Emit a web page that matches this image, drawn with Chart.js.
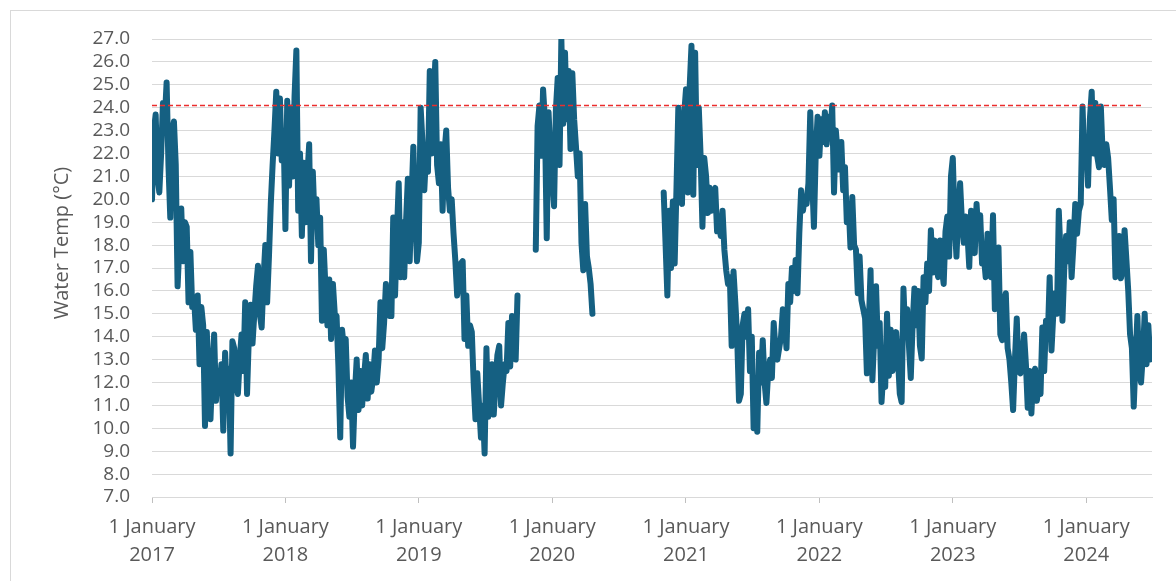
<!DOCTYPE html>
<html><head><meta charset="utf-8">
<script src="https://cdn.jsdelivr.net/npm/chart.js@4.4.1/dist/chart.umd.min.js"></script>
<style>
html,body{margin:0;padding:0;background:#fff;overflow:hidden;}
#wrap{position:relative;width:1176px;height:581px;overflow:hidden;}
#frame{position:absolute;left:10px;top:10px;width:1300px;height:700px;border:1px solid #d9d9d9;box-sizing:border-box;}
canvas{position:absolute;left:0;top:0;}
</style></head><body>
<div id="wrap"><div id="frame"></div><canvas id="c" width="1176" height="581"></canvas></div>
<script>
// Tick labels / categories
const yearStartDays = [0, 365, 730, 1095, 1461, 1826, 2191, 2556];
const yearLabels = ['2017', '2018', '2019', '2020', '2021', '2022', '2023', '2024'];
const stepDays = 5;
const thresholdValue = 24.1;
const thresholdEndDay = 2710;
const axisTitle = 'Water Temp (°C)';

// Water temperature series, one value every 5 days from 1 January of each year
const temps2017 = [20.0,23.0,23.7,21.0,20.3,22.0,24.2,23.5,25.1,21.5,
 19.2,23.0,23.4,21.5,16.2,18.0,19.6,17.3,19.0,18.8,
 15.5,17.7,15.3,15.7,14.3,15.8,12.8,15.3,14.5,10.1,
 14.2,12.0,10.4,12.5,14.1,11.2,12.5,11.8,12.8,9.9,
 13.3,11.5,12.6,8.9,13.8,13.5,12.0,11.5,13.0,14.1,
 12.5,15.5,11.5,14.0,15.4,13.7,15.0,16.2,17.1,15.0,
 14.4,16.5,18.0,15.5,17.5,19.8,21.5,23.0,24.7,22.0,
 24.4,21.7,23.0];
const temps2018 = [18.7,24.3,20.6,24.0,21.0,24.5,26.5,19.5,22.0,18.4,
 21.6,19.0,21.0,22.4,17.3,21.2,19.0,20.0,18.0,19.2,
 14.7,17.8,16.0,14.5,16.5,13.9,16.3,15.0,14.9,12.7,
 9.6,14.3,13.5,13.9,11.4,10.5,12.0,9.2,11.5,13.0,
 10.8,12.5,11.0,12.2,13.2,11.3,12.8,11.6,12.2,13.4,
 12.0,13.0,15.5,13.5,14.6,16.3,15.0,14.9,14.9,19.2,
 15.8,18.5,20.7,16.6,19.0,16.6,19.0,20.9,17.3,20.0,
 22.3,19.5,17.3];
const temps2019 = [18.1,24.0,22.5,20.4,22.0,21.2,25.6,22.0,24.0,26.0,
 21.5,20.7,22.4,19.5,22.0,23.0,20.5,19.5,20.0,18.5,
 17.3,15.8,16.5,17.2,17.3,13.9,15.8,13.6,14.5,14.2,
 12.0,10.4,12.4,11.0,9.6,11.0,8.9,13.5,10.5,11.5,
 12.8,10.6,12.0,13.2,13.6,11.0,12.0,12.8,12.5,14.6,
 12.7,14.9,14.0,13.0,15.8,null,null,null,null,null,
 null,null,null,null,17.8,23.2,24.1,21.9,24.8,23.5,
 18.3,23.8,22.0];
const temps2020 = [21.0,19.7,23.9,25.3,21.5,27.0,23.3,26.4,23.5,25.6,
 22.2,25.5,23.5,22.3,21.0,22.0,18.1,16.9,19.8,17.5,
 17.0,16.3,15.0,null,null,null,null,null,null,null,
 null,null,null,null,null,null,null,null,null,null,
 null,null,null,null,null,null,null,null,null,null,
 null,null,null,null,null,null,null,null,null,null,
 null,20.3,18.1,15.8,19.5,17.0,19.9,17.2,20.5,24.0,
 21.0,19.8,23.5];
const temps2021 = [24.8,20.3,24.9,26.7,20.2,26.4,21.5,24.0,21.9,18.8,
 21.8,21.0,19.4,20.5,19.5,20.0,20.5,18.6,19.0,18.4,
 19.5,17.8,16.9,16.3,16.6,13.6,16.85,15.5,14.0,11.2,
 11.5,14.5,15.0,14.0,15.2,12.5,14.0,10.0,11.0,9.85,
 13.3,12.0,13.85,12.0,11.1,12.5,13.0,12.2,14.6,13.4,
 13.0,13.5,14.0,15.2,14.5,13.5,16.3,15.5,17.0,16.0,
 17.35,15.9,18.5,20.4,19.5,20.1,19.8,20.7,23.8,21.0,
 18.8,22.0,23.6];
const temps2022 = [21.9,23.5,22.5,23.8,22.4,23.6,22.8,24.1,20.3,23.0,
 22.0,21.3,22.5,20.4,21.4,19.0,19.8,17.9,20.1,18.0,
 17.8,15.9,17.5,15.6,15.2,14.8,12.4,14.5,16.9,12.1,
 14.0,16.2,13.6,14.6,11.15,12.5,11.8,15.0,12.3,14.3,
 12.5,13.0,14.2,13.0,11.5,11.15,16.1,14.0,15.2,13.6,
 12.2,14.5,16.1,14.5,16.0,13.6,13.05,16.6,15.5,17.2,
 16.0,18.65,16.8,18.2,17.0,16.6,18.2,17.0,16.3,18.6,
 19.25,17.5,21.0];
const temps2023 = [21.8,19.0,17.5,19.5,20.7,19.0,18.1,19.25,18.5,17.05,
 19.5,18.5,17.65,19.8,18.5,19.3,17.2,17.5,16.6,18.5,
 17.5,16.6,19.3,15.2,17.0,17.9,14.1,13.85,15.5,15.9,
 13.5,13.0,12.0,10.8,13.0,14.8,12.5,12.4,13.0,14.1,
 12.8,10.9,12.5,10.65,12.3,12.6,11.2,12.0,11.5,14.4,
 12.5,14.7,14.0,16.6,13.4,15.0,15.9,15.0,19.5,17.5,
 14.7,17.0,18.4,17.3,19.0,16.6,18.0,19.8,18.5,19.5,
 19.8,24.05,21.5];
const temps2024 = [22.5,20.6,23.5,24.7,22.0,24.2,21.9,21.4,24.05,22.0,
 21.5,22.4,21.8,20.5,19.1,20.0,16.6,17.0,18.4,16.55,
 17.0,18.65,17.35,16.0,14.1,13.5,10.95,13.0,14.9,12.5,
 12.0,13.2,15.0,12.8,14.5,13.0,13.8];

const yearSeries = [temps2017, temps2018, temps2019, temps2020, temps2021, temps2022, temps2023, temps2024];
const points = [];
yearSeries.forEach((arr, yi) => {
  arr.forEach((v, i) => points.push({x: yearStartDays[yi] + i * stepDays, y: v}));
});

const FONT = "'Open Sans', 'Liberation Sans', sans-serif";
const TXT = '#595959';

const titlePlugin = {
  id: 'ytitle',
  afterDraw(chart) {
    const ctx = chart.ctx;
    ctx.save();
    ctx.translate(62, 243);
    ctx.rotate(-Math.PI / 2);
    ctx.font = "20px " + FONT;
    ctx.fillStyle = TXT;
    ctx.textAlign = 'center';
    ctx.textBaseline = 'middle';
    ctx.fillText(axisTitle, 0, 0);
    ctx.restore();
  }
};

new Chart(document.getElementById('c'), {
  type: 'line',
  data: {
    datasets: [
      {
        data: [{x: 0, y: thresholdValue}, {x: thresholdEndDay, y: thresholdValue}],
        borderColor: 'rgb(235,45,45)',
        borderWidth: 1.5,
        borderDash: [5, 3],
        pointRadius: 0,
        order: 0
      },
      {
        data: points,
        borderColor: '#156082',
        borderWidth: 6,
        pointRadius: 0,
        tension: 0,
        spanGaps: false,
        borderJoinStyle: 'round',
        borderCapStyle: 'round',
        order: 1
      }
    ]
  },
  options: {
    responsive: false,
    animation: false,
    devicePixelRatio: 1,
    layout: {padding: {left: 0, right: 24, top: 39, bottom: 0}},
    plugins: {legend: {display: false}, tooltip: {enabled: false}},
    scales: {
      x: {
        type: 'linear',
        min: 0,
        max: 2736,
        afterBuildTicks(scale) { scale.ticks = yearStartDays.map(v => ({value: v})); },
        afterFit(scale) { scale.height = 84; },
        grid: {drawOnChartArea: false, drawTicks: true, tickLength: 6, color: '#bfbfbf'},
        border: {display: true, color: '#d9d9d9', width: 1},
        ticks: {
          autoSkip: false, maxRotation: 0, minRotation: 0, padding: 10,
          color: TXT, font: {family: FONT, size: 20, lineHeight: 1.4},
          callback(value) {
            const idx = yearStartDays.indexOf(value);
            return idx >= 0 ? ['1 January', yearLabels[idx]] : '';
          }
        }
      },
      y: {
        min: 7, max: 27,
        afterFit(scale) { scale.width = 152; },
        grid: {drawTicks: false, color: '#d9d9d9', lineWidth: 1},
        border: {display: false},
        ticks: {
          stepSize: 1, autoSkip: false, padding: 22, color: TXT,
          font: {family: FONT, size: 19},
          callback(v) { return Number(v).toFixed(1); }
        }
      }
    }
  },
  plugins: [titlePlugin]
});
</script>
</body></html>
